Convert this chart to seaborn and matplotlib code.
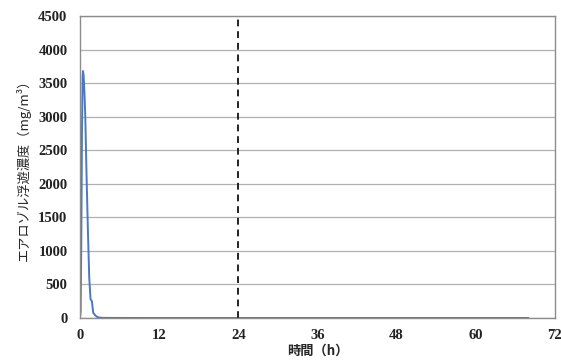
import matplotlib
matplotlib.use("Agg")
import matplotlib.pyplot as plt
import seaborn as sns
import pandas as pd

time_h = [0.0, 0.1, 0.2, 0.3, 0.4, 0.45, 0.55, 0.7, 0.8, 1.0, 1.2, 1.4, 1.6, 1.8, 2.0, 2.3, 2.6, 3.0, 3.5, 5, 10, 20, 30, 40, 50, 60, 68]
conc = [0, 100, 1200, 2800, 3600, 3680, 3620, 3300, 3000, 2100, 1300, 600, 280, 250, 80, 40, 15, 5, 2, 1, 0, 0, 0, 0, 0, 0, 0]
x_ticks = [0, 12, 24, 36, 48, 60, 72]
y_ticks = [0, 500, 1000, 1500, 2000, 2500, 3000, 3500, 4000, 4500]
marker_time = 24

df = pd.DataFrame({"t": time_h, "c": conc})

sns.set_style("white")
plt.rcParams['font.family'] = ['Liberation Serif', 'Noto Sans CJK JP', 'DejaVu Sans']

fig = plt.figure(figsize=(5.61, 3.63), dpi=100)
ax = fig.add_axes([0.1426, 0.124, 0.8464, 0.832])
ax.set_xlim(0, 72)
ax.set_ylim(0, 4500)
ax.set_yticks(y_ticks)
ax.set_xticks(x_ticks)
ax.yaxis.grid(True, color="#b0b0b0", lw=0.9)
ax.set_axisbelow(True)

sns.lineplot(data=df, x="t", y="c", ax=ax, color="#4a78c8", lw=1.4)
ax.axvline(marker_time, color="#222222", lw=1.4, ls=(0, (3.5, 2.5)))

for s in ax.spines.values():
    s.set_color("#8c8c8c")
    s.set_linewidth(1.0)

ax.tick_params(axis="y", labelsize=10.5, length=0, pad=9, colors="#222222")
ax.tick_params(axis="x", labelsize=10.5, length=3, direction="in", width=0.8,
               pad=8, colors="#222222")
ax.tick_params(axis="x", colors="#bbbbbb", labelcolor="#222222")
for lbl in ax.get_xticklabels() + ax.get_yticklabels():
    lbl.set_fontweight("bold")
ax.set_xlabel("時間（h）", fontsize=9.5, fontweight="bold",
              family=['Noto Sans CJK JP', 'DejaVu Sans'], labelpad=1)
ax.set_ylabel("エアロゾル浮遊濃度（mg/m³）", fontsize=9.5,
              family=['Noto Sans CJK JP', 'DejaVu Sans'], labelpad=5)

fig.savefig("out.png", dpi=100)
